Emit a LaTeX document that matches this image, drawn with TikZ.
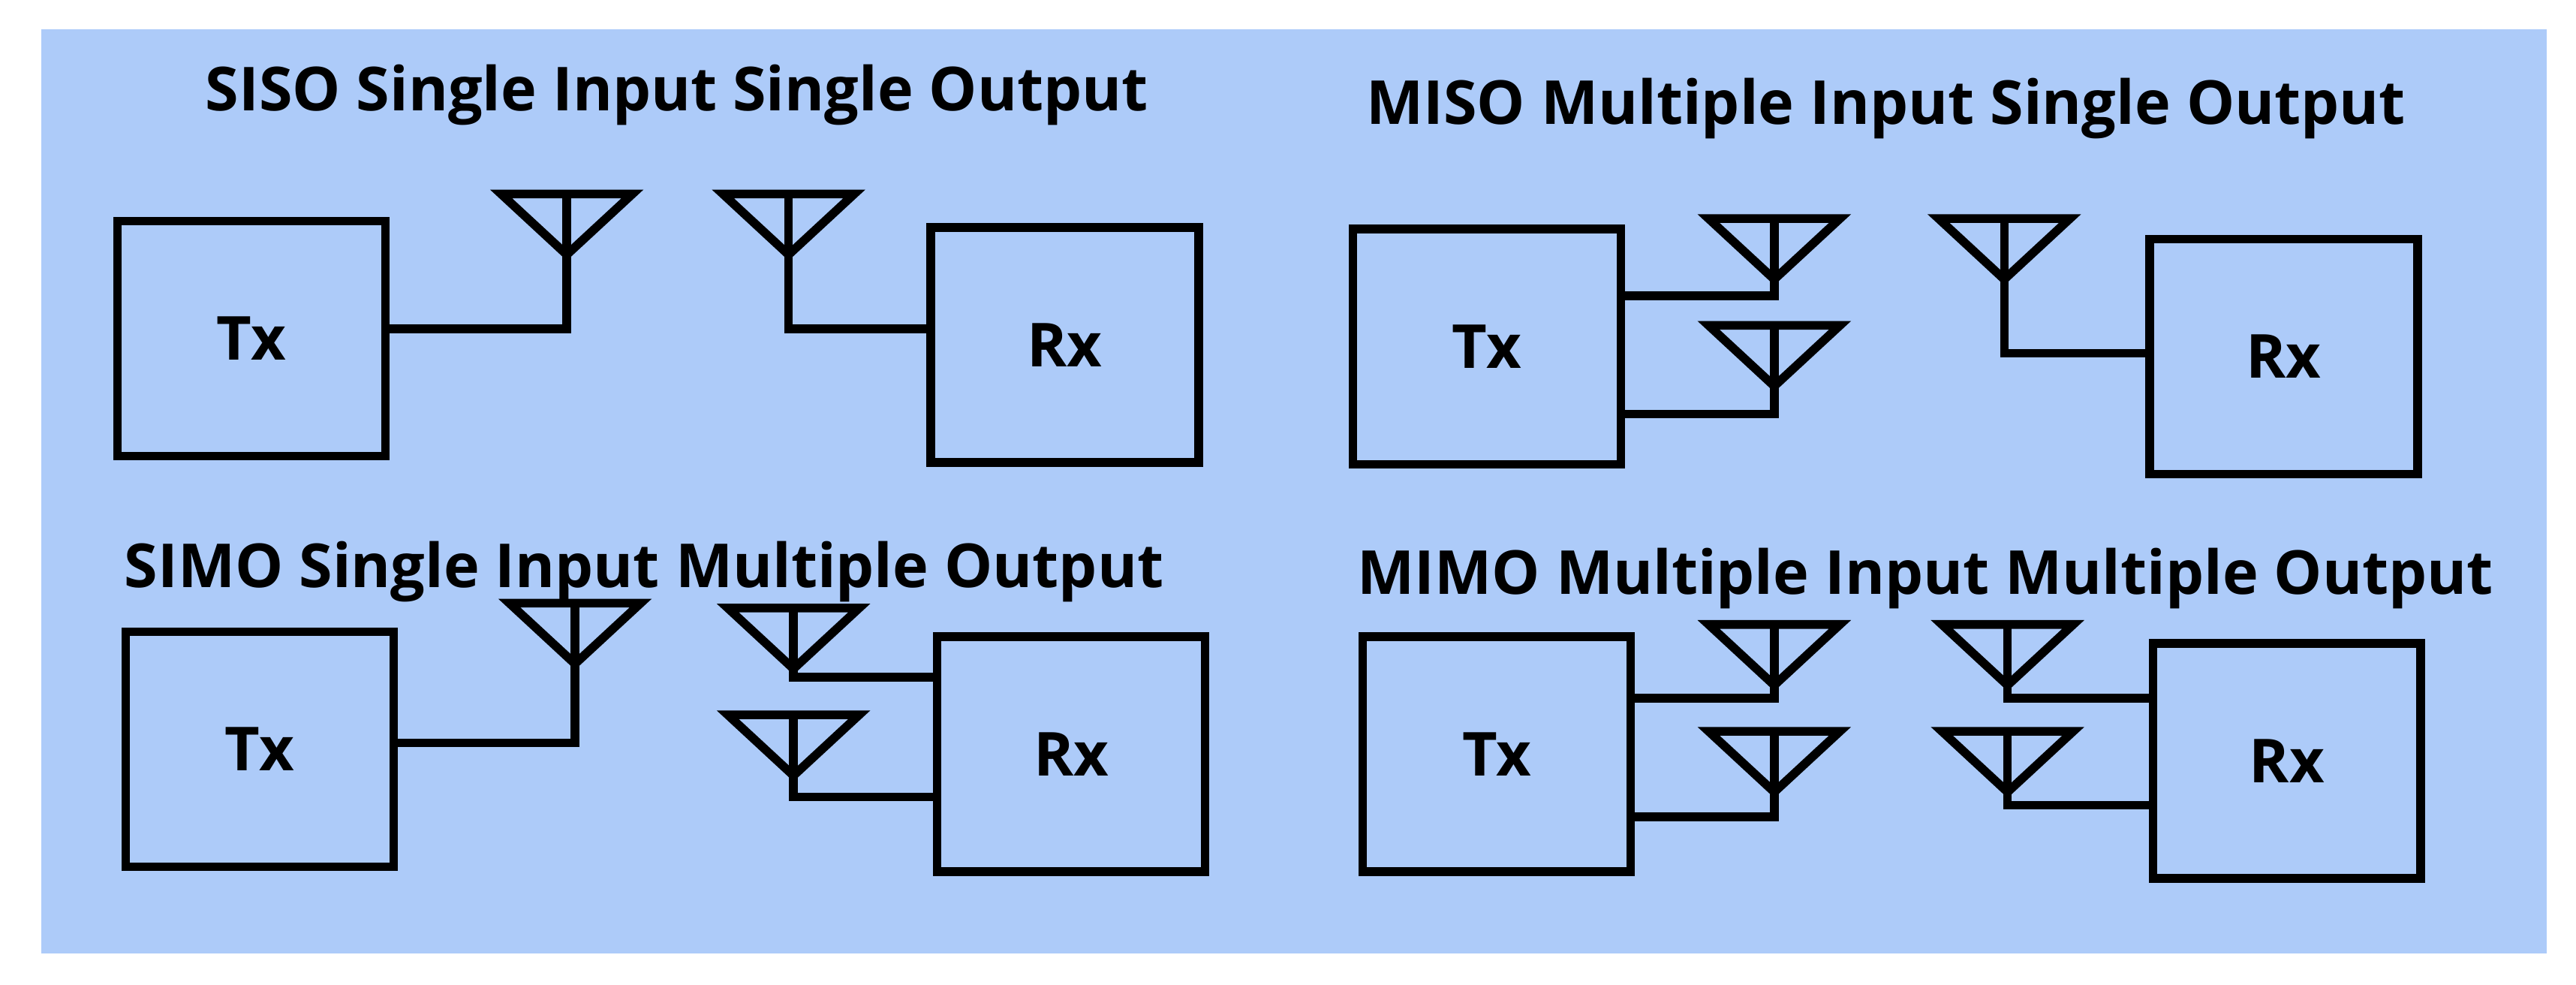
\documentclass[tikz,border=0pt]{standalone}
\usepackage{fontspec}
\setmainfont{Open Sans}
\definecolor{panelblue}{HTML}{ADCBF9}
\tikzset{
  unit/.style={draw, line width=1.5pt, minimum width=1.63cm, minimum height=1.43cm, inner sep=0pt, font=\bfseries\fontsize{10.5}{12}\selectfont},
  title/.style={font=\bfseries\fontsize{10.5}{12}\selectfont},
  wire/.style={line width=1.5pt, line join=miter}
}
% antenna: name, top centre x, top centre y
\newcommand{\antenna}[3]{
  \coordinate (#1) at (#2,#3+37);
  \draw[wire] (#2-40,#3) -- (#2+40,#3) -- (#1) -- cycle;
  \draw[wire] (#2,#3) -- (#1);
}
\begin{document}
\begin{tikzpicture}[x=0.01cm, y=-0.01cm]
  \useasboundingbox (0,0) rectangle (1568,599);
  \fill[panelblue] (25,18) rectangle (1550,580);

  % SISO
  \node[title] (t1) at (412,58) {SISO Single Input Single Output};
  \node[unit] (tx1) at (153,206) {Tx};
  \node[unit] (rx1) at (648,210) {Rx};
  \antenna{a1}{345}{118}
  \antenna{b1}{480}{118}
  \draw[wire] (a1) |- (tx1.east |- 0,200);
  \draw[wire] (b1) |- (rx1.west |- 0,200);

  % MISO
  \node[title] (t2) at (1148,66) {MISO Multiple Input Single Output};
  \node[unit] (tx2) at (905,211) {Tx};
  \node[unit] (rx2) at (1390,217) {Rx};
  \antenna{a2}{1080}{133}
  \antenna{c2}{1080}{198}
  \antenna{b2}{1220}{133}
  \draw[wire] (a2) |- (tx2.east |- 0,180);
  \draw[wire] (c2) |- (tx2.east |- 0,252);
  \draw[wire] (b2) |- (rx2.west |- 0,215);

  % SIMO
  \node[title] (t3) at (392,348) {SIMO Single Input Multiple Output};
  \node[unit] (tx3) at (158,456) {Tx};
  \node[unit] (rx3) at (652,459) {Rx};
  \antenna{a3}{350}{367}
  \antenna{b3}{483}{370}
  \antenna{c3}{483}{435}
  \draw[wire] (a3) |- (tx3.east |- 0,452);
  \draw[wire] (b3) |- (rx3.west |- 0,412);
  \draw[wire] (c3) |- (rx3.west |- 0,485);

  % MIMO
  \node[title] (t4) at (1172,352) {MIMO Multiple Input Multiple Output};
  \node[unit] (tx4) at (911,459) {Tx};
  \node[unit] (rx4) at (1392,463) {Rx};
  \antenna{a4}{1080}{380}
  \antenna{c4}{1080}{445}
  \antenna{b4}{1222}{380}
  \antenna{d4}{1222}{445}
  \draw[wire] (a4) |- (tx4.east |- 0,425);
  \draw[wire] (c4) |- (tx4.east |- 0,497);
  \draw[wire] (b4) |- (rx4.west |- 0,425);
  \draw[wire] (d4) |- (rx4.west |- 0,490);
\end{tikzpicture}
\end{document}
